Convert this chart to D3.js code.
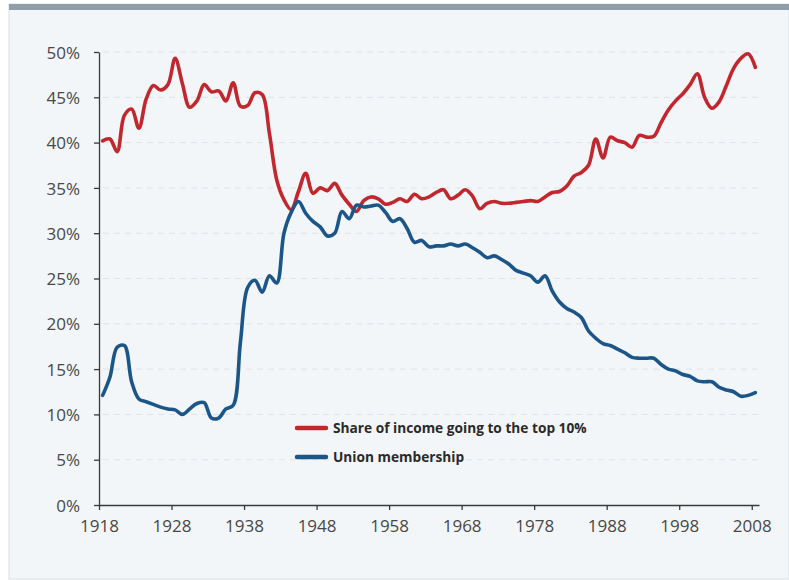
<!DOCTYPE html>
<meta charset="utf-8">
<style>
    body { margin: 0; background: #fff; }
    svg { display: block; font-family: "Open Sans", sans-serif; }
    .grid line { stroke: #dde3e8; stroke-dasharray: 6,5; }
    .axis path, .axis line { stroke: #3a3a3a; stroke-width: 1.3px; }
    .axis text { font-size: 17px; fill: #484848; font-family: "Open Sans", sans-serif; }
    .legend text { font-size: 13.7px; font-weight: 700; fill: #2a2a2a; }
</style>
<svg width="789" height="580"></svg>
<script src="https://cdn.jsdelivr.net/npm/d3@7"></script>
<script>

    // years 1918 .. 2008
    var firstYear = 1918;

    var topTenShare = [
        40.2, 40.4, 39.0, 43.0, 43.7, 41.6, 44.8, 46.3, 45.8, 46.4,
        49.3, 46.5, 43.9, 44.6, 46.4, 45.6, 45.7, 44.6, 46.6, 44.0,
        44.1, 45.5, 45.3, 41.0, 35.9, 33.7, 32.6, 34.6, 36.6, 34.4,
        35.0, 34.7, 35.5, 34.2, 33.2, 32.4, 33.6, 34.0, 33.8, 33.2,
        33.4, 33.8, 33.5, 34.3, 33.8, 34.0, 34.5, 34.8, 33.8, 34.2,
        34.8, 34.1, 32.7, 33.3, 33.5, 33.3, 33.3, 33.4, 33.5, 33.6,
        33.5, 34.0, 34.5, 34.6, 35.2, 36.3, 36.7, 37.5, 40.4, 38.3,
        40.6, 40.2, 40.0, 39.5, 40.8, 40.6, 40.7, 42.2, 43.6, 44.6,
        45.4, 46.4, 47.6, 45.0, 43.8, 44.5, 46.3, 48.2, 49.3, 49.8,
        48.3
    ];

    var unionMembership = [
        12.1, 14.1, 17.4, 17.6, 13.6, 11.7, 11.4, 11.1, 10.8, 10.6,
        10.5, 10.0, 10.6, 11.2, 11.3, 9.6, 9.6, 10.6, 11.0, 18.0,
        24.0, 24.8, 23.5, 25.3, 24.5, 30.0, 32.3, 33.5, 32.2, 31.3,
        30.7, 29.7, 30.0, 32.4, 31.6, 33.1, 32.9, 33.0, 33.1, 32.3,
        31.3, 31.6, 30.5, 29.0, 29.2, 28.5, 28.6, 28.6, 28.8, 28.6,
        28.8, 28.4, 27.9, 27.3, 27.5, 27.1, 26.6, 25.9, 25.6, 25.3,
        24.6, 25.3, 23.6, 22.4, 21.7, 21.3, 20.7, 19.2, 18.4, 17.8,
        17.6, 17.2, 16.8, 16.3, 16.2, 16.2, 16.2, 15.5, 15.0, 14.8,
        14.4, 14.2, 13.7, 13.6, 13.6, 13.0, 12.7, 12.5, 12.0, 12.1,
        12.4
    ];

    var xTicks = [1918, 1928, 1938, 1948, 1958, 1968, 1978, 1988, 1998, 2008];
    var yTicks = [0, 5, 10, 15, 20, 25, 30, 35, 40, 45, 50];

    var seriesNames = ["Share of income going to the top 10%", "Union membership"];
    var seriesColors = ["#c1272d", "#1c5688"];

    var svg = d3.select("svg");

    // panel background
    svg.append("rect").attr("x", 9).attr("y", 4).attr("width", 780).attr("height", 575)
        .attr("fill", "#f3f6f9").attr("stroke", "#d9e0e5");
    svg.append("rect").attr("x", 9).attr("y", 4).attr("width", 780).attr("height", 6)
        .attr("fill", "#8f9ea8");

    var x = d3.scaleLinear().domain([1918, 2009]).range([99, 759]);
    var y = d3.scaleLinear().domain([0, 50]).range([505, 52]);

    // dashed gridlines
    svg.append("g").attr("class", "grid")
        .selectAll("line")
        .data(yTicks.filter(function (d) { return d > 0; }))
        .enter().append("line")
        .attr("x1", x(1918) + 4).attr("x2", x(2009))
        .attr("y1", function (d) { return y(d); })
        .attr("y2", function (d) { return y(d); });

    svg.append("g").attr("class", "axis")
        .attr("transform", "translate(0," + y(0) + ")")
        .call(d3.axisBottom(x).tickValues(xTicks).tickFormat(d3.format("d"))
            .tickSize(5).tickSizeOuter(0).tickPadding(10));

    var yAxis = svg.append("g").attr("class", "axis")
        .attr("transform", "translate(" + x(1918) + ",0)")
        .call(d3.axisLeft(y).tickValues(yTicks).tickFormat(function (d) { return d + "%"; })
            .tickSize(5).tickSizeOuter(0).tickPadding(14));

    yAxis.selectAll("text").attr("dy", "0.36em");

    var line = d3.line()
        .x(function (d, i) { return x(firstYear + i + 0.5); })
        .y(function (d) { return y(d); })
        .curve(d3.curveCatmullRom.alpha(0.5));

    [topTenShare, unionMembership].forEach(function (data, k) {
        svg.append("path")
            .datum(data)
            .attr("fill", "none")
            .attr("stroke", seriesColors[k])
            .attr("stroke-width", 3.6)
            .attr("stroke-linejoin", "round")
            .attr("stroke-linecap", "round")
            .attr("d", line);
    });

    // legend
    var legend = svg.append("g").attr("class", "legend")
        .attr("transform", "translate(297,428)");

    var item = legend.selectAll("g")
        .data(seriesNames)
        .enter().append("g")
        .attr("transform", function (d, i) { return "translate(0," + i * 29 + ")"; });

    item.append("line")
        .attr("x1", 0).attr("x2", 29)
        .attr("stroke", function (d, i) { return seriesColors[i]; })
        .attr("stroke-width", 4.5)
        .attr("stroke-linecap", "round");

    item.append("text")
        .attr("x", 36)
        .attr("dy", "0.36em")
        .text(function (d) { return d; });

</script>
